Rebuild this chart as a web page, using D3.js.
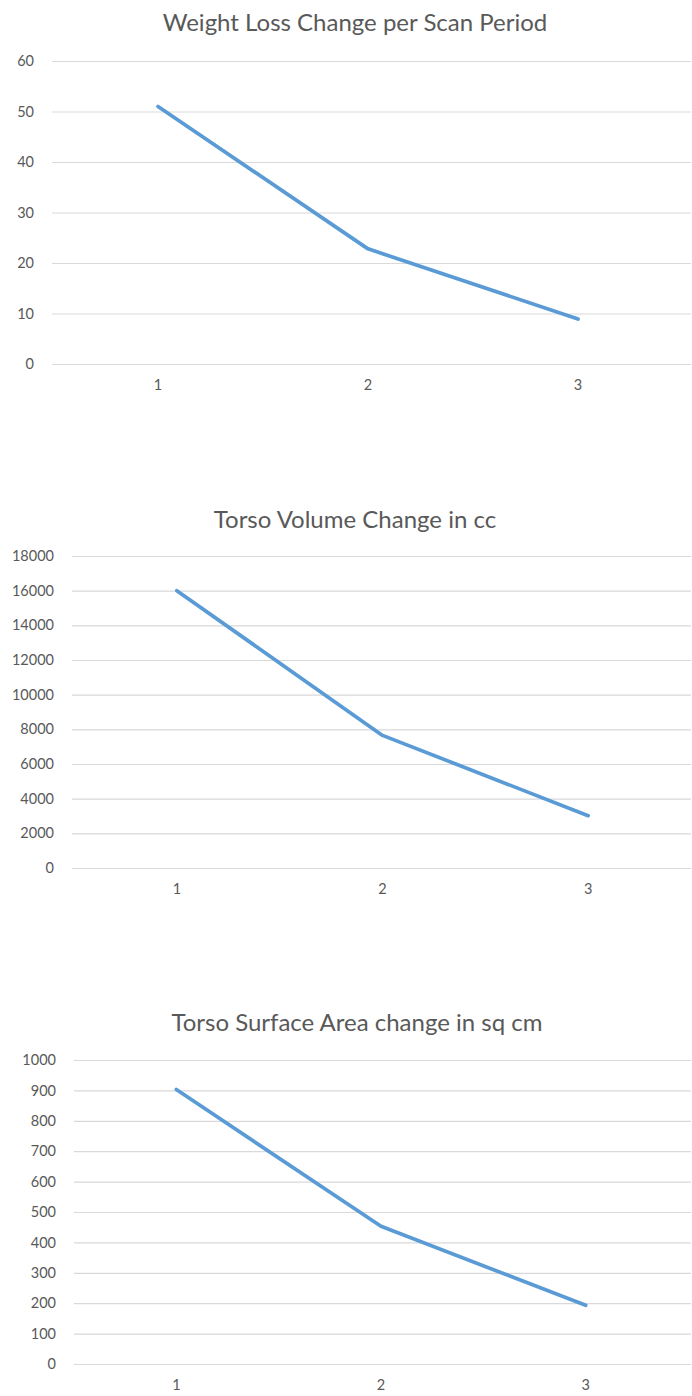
<!DOCTYPE html>
<html><head><meta charset="utf-8">
<script src="https://cdn.jsdelivr.net/npm/d3@7"></script>
<style>
html,body{margin:0;padding:0;background:#fff;}
svg{display:block;}
</style></head>
<body>
<svg id="chart" width="692" height="1396"></svg>
<script>
const categories = ["1", "2", "3"];

const weightTitle = "Weight Loss Change per Scan Period";
const weightValues = [51, 22.8, 8.9];
const weightTicks = [0, 10, 20, 30, 40, 50, 60];

const volumeTitle = "Torso Volume Change in cc";
const volumeValues = [16000, 7650, 3020];
const volumeTicks = [0, 2000, 4000, 6000, 8000, 10000, 12000, 14000, 16000, 18000];

const areaTitle = "Torso Surface Area change in sq cm";
const areaValues = [903, 453, 193];
const areaTicks = [0, 100, 200, 300, 400, 500, 600, 700, 800, 900, 1000];

const svg = d3.select("#chart");
const FONT = "Lato, 'Noto Sans', sans-serif";
const TEXT_COLOR = "#595959";

function drawChart(cfg) {
  const g = svg.append("g");
  const x = d3.scaleBand().domain(categories).range([cfg.left, cfg.right]);
  const y = d3.scaleLinear().domain([0, d3.max(cfg.ticks)]).range([cfg.bottom, cfg.top]);

  g.append("text")
    .attr("x", cfg.titleX).attr("y", cfg.titleY)
    .attr("text-anchor", "middle")
    .attr("font-family", FONT).attr("font-size", 24)
    .attr("fill", TEXT_COLOR)
    .text(cfg.title);

  const yAxis = d3.axisLeft(y).tickValues(cfg.ticks)
    .tickSize(-(cfg.gridRight - cfg.gridLeft)).tickPadding(18).tickFormat(d3.format("d"));
  const ya = g.append("g").attr("transform", `translate(${cfg.gridLeft},0)`).call(yAxis);
  ya.select(".domain").remove();
  ya.selectAll(".tick line").attr("stroke", "#d9d9d9").attr("stroke-width", 1.2);
  ya.selectAll(".tick text").attr("font-family", FONT).attr("font-size", 14.5).attr("fill", TEXT_COLOR);

  const xAxis = d3.axisBottom(x).tickSize(0).tickPadding(16);
  const xa = g.append("g").attr("transform", `translate(0,${cfg.bottom})`).call(xAxis);
  xa.select(".domain").remove();
  xa.selectAll(".tick text").attr("font-family", FONT).attr("font-size", 14.5).attr("fill", TEXT_COLOR);

  const line = d3.line()
    .x((d, i) => x(categories[i]) + x.bandwidth() / 2)
    .y(d => y(d));
  g.append("path").datum(cfg.values)
    .attr("d", line)
    .attr("fill", "none")
    .attr("stroke", "#5b9bd5")
    .attr("stroke-width", 3.7)
    .attr("stroke-linejoin", "round")
    .attr("stroke-linecap", "round");
}

drawChart({title: weightTitle, values: weightValues, ticks: weightTicks,
  left: 53, right: 683, gridLeft: 52, gridRight: 691, top: 61, bottom: 364, titleX: 355, titleY: 31});
drawChart({title: volumeTitle, values: volumeValues, ticks: volumeTicks,
  left: 74, right: 691, gridLeft: 72, gridRight: 691, top: 556, bottom: 868, titleX: 355, titleY: 528});
drawChart({title: areaTitle, values: areaValues, ticks: areaTicks,
  left: 74, right: 688, gridLeft: 74, gridRight: 691, top: 1060, bottom: 1364, titleX: 357, titleY: 1031});
</script>
</body></html>
